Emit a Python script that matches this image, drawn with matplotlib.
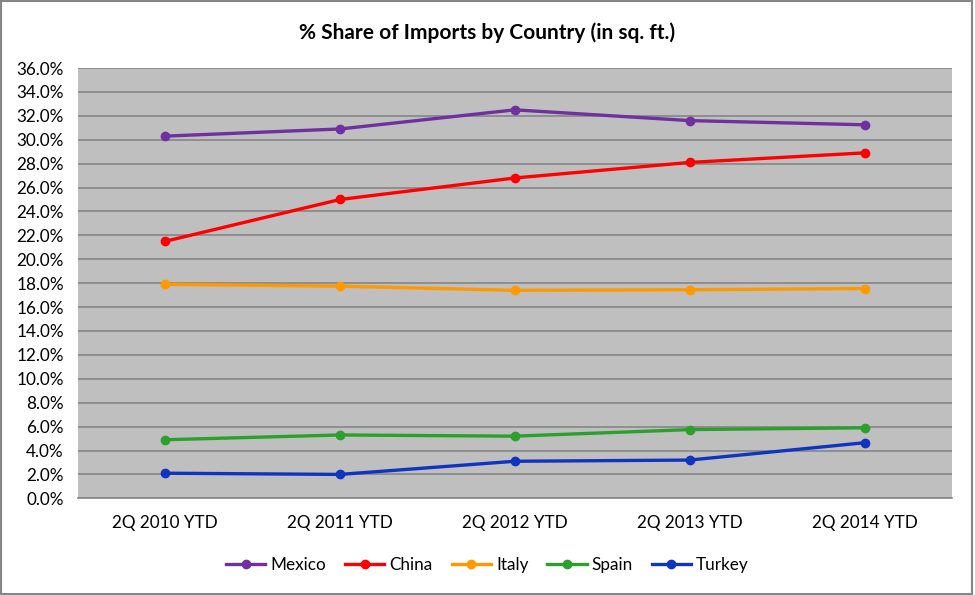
import matplotlib
matplotlib.use("Agg")
import matplotlib.pyplot as plt
from matplotlib.patches import Rectangle
from matplotlib.ticker import FuncFormatter

categories = ["2Q 2010 YTD", "2Q 2011 YTD", "2Q 2012 YTD", "2Q 2013 YTD", "2Q 2014 YTD"]
mexico = [30.3, 30.9, 32.5, 31.6, 31.25]
china = [21.5, 25.0, 26.8, 28.1, 28.9]
italy = [17.9, 17.75, 17.4, 17.45, 17.55]
spain = [4.9, 5.3, 5.2, 5.75, 5.9]
turkey = [2.1, 2.0, 3.1, 3.2, 4.65]
series_names = ["Mexico", "China", "Italy", "Spain", "Turkey"]
colors = ["#7030A0", "#FF0000", "#FF9900", "#2CA02C", "#1034C0"]

plt.rcParams['font.family'] = ['Lato', 'DejaVu Sans']

fig = plt.figure(figsize=(9.75, 5.95), dpi=100)
ax = fig.add_axes([0.0797, 0.1625, 0.8967, 0.7232])
ax.set_facecolor("#BFBFBF")

x = list(range(len(categories)))
for name, vals, c in zip(series_names, [mexico, china, italy, spain, turkey], colors):
    ax.plot(x, vals, color=c, lw=2.4, marker="o", markersize=6, label=name, zorder=3)

ax.set_xlim(-0.5, len(categories) - 0.5)
ax.set_ylim(0, 36)
ax.set_yticks([i * 2 for i in range(19)])
ax.yaxis.set_major_formatter(FuncFormatter(lambda v, p: f"{v:.1f}%"))
ax.set_xticks(x)
ax.set_xticklabels(categories)
ax.grid(axis="y", color="#868686", lw=1.2, zorder=1)
ax.set_axisbelow(True)
for s in ["left", "right", "top"]:
    ax.spines[s].set_visible(False)
ax.spines["bottom"].set_color("#868686")
ax.spines["bottom"].set_linewidth(1.2)
ax.tick_params(axis="both", length=0, labelsize=12.3, colors="black")
ax.tick_params(axis="x", pad=12)
ax.tick_params(axis="y", pad=10)

fig.suptitle("% Share of Imports by Country (in sq. ft.)", fontsize=15, fontweight="bold", y=0.962)

leg = fig.legend(loc="center", bbox_to_anchor=(0.5, 0.051), ncol=5, frameon=False,
                 fontsize=12.3, handlelength=2.3, columnspacing=1.1, handletextpad=0.3)

fig.patches.append(Rectangle((0.001, 0.002), 0.996, 0.996, transform=fig.transFigure,
                             fill=False, edgecolor="#868686", lw=1.5))

fig.savefig("out.png", dpi=100)
